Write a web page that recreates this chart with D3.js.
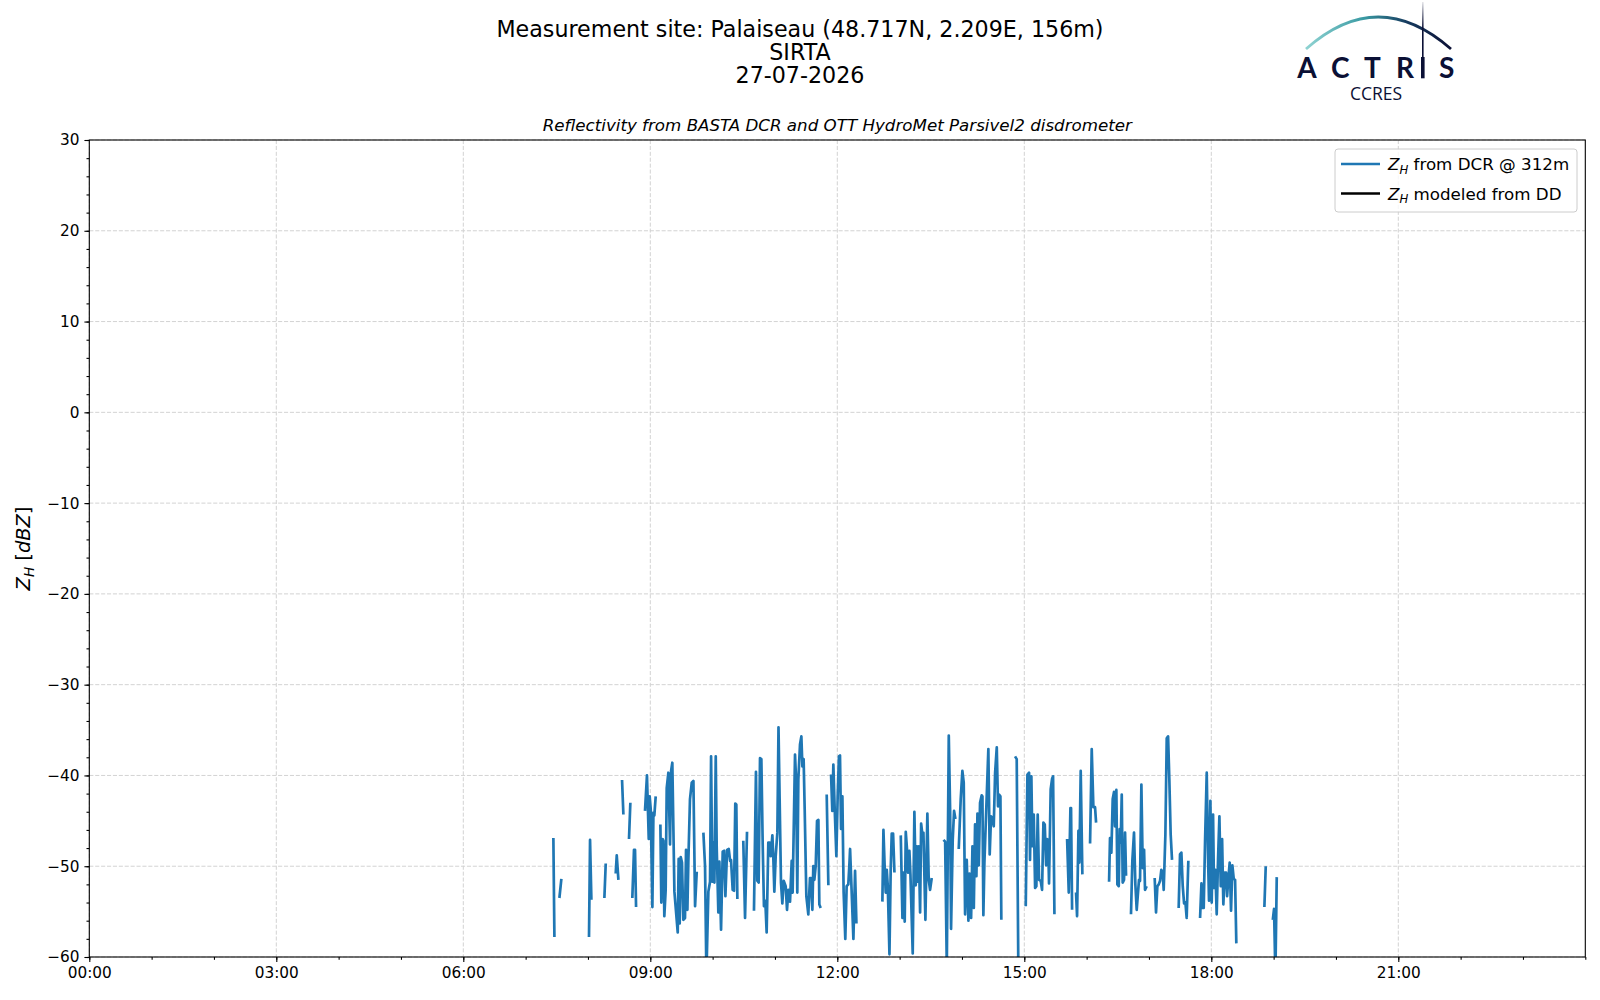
<!DOCTYPE html>
<html>
<head>
<meta charset="utf-8">
<script src="https://cdn.jsdelivr.net/npm/d3@7/dist/d3.min.js"></script>
<style>
  body { margin: 0; background: #fff; }
  svg text { font-family: "DejaVu Sans", sans-serif; fill: #000; }
</style>
</head>
<body>
<div id="chart"></div>
<script>
// Header texts
const titleLines = ["Measurement site: Palaiseau (48.717N, 2.209E, 156m)", "SIRTA", "27-07-2026"];
const subTitle = "Reflectivity from BASTA DCR and OTT HydroMet Parsivel2 disdrometer";

// Axis ticks
const xMajorTicks = [0, 180, 360, 540, 720, 900, 1080, 1260];   // minutes after 00:00
const xMinorTicks = d3.range(0, 1441, 60);
const yMajorTicks = [-60, -50, -40, -30, -20, -10, 0, 10, 20, 30];
const yMinorTicks = d3.range(-60, 31, 2);

// Z_H from DCR @ 312m : time in minutes after 00:00, dBZ (null = no echo)
const dcrTime = [
  446.7, 447.7, 448,
  452.5, 454.4, 455,
  481.0, 482.0, 483.3, 484,
  495.8, 497.1, 498,
  506.7, 507.7, 509.3, 510,
  512.8, 514.1, 515,
  519.5, 520.8, 521.5,
  522.7, 524.3, 525.3, 526.3, 527,
  534.9, 536.8, 538.5, 539.4, 540.4, 542.0, 543.0, 543.9, 545.2, 546,
  549.7, 550.6, 551.9, 552.6, 553.5, 554.8, 555.8, 557.4, 559.0, 560.0, 561.2, 563.2, 566.4, 567.3, 568.3,
  569.3, 570.5, 571.8, 573.4, 574.4, 575.7, 576.6, 578.2, 579.9, 581.5, 583.1, 584.7, 586,
  591.1, 592.7, 594.0, 595.9, 597.5, 598.5, 599.7, 600.7, 601.7, 603.0, 603.9, 605.5, 606.5, 608.1, 609.7,
  611.0, 612.3, 613.9, 615.5, 616.8, 617.7, 619.3, 620.6, 621.8, 622.8, 623.8, 625,
  629.5, 631.2, 633.1, 634,
  639.8, 641.7, 643.0, 644.3, 645.6, 646.9, 648.2, 649.4, 650.7, 652.0, 653.6, 654.9, 655.9, 657.5, 658.4,
  659.4, 660.7, 662.3, 663.4, 664.5, 665.8, 667.1, 668.4, 670.3, 671.6, 672.9, 674.5, 676.1, 677.0, 679.3,
  680.3, 681.5, 682.5, 684.1, 685.4, 686.4, 687.6, 688.6, 690.2, 692.1, 693.7, 694.7, 696.0, 696.9, 697.9,
  699.2, 700.5, 701.8, 702.7, 704.0, 705,
  709.8, 711.4, 712,
  714.0, 715.2, 716.2, 717.5, 719.1, 720.4, 721.6, 722.6, 723.6, 724.9, 726.1, 727.7, 729.0, 730.6, 731.6,
  732.3, 735.5, 737.1, 738.4, 739,
  763.4, 764.4, 765.7, 766.6, 767.6, 768.6, 770.2, 771.4, 772.4, 773.7, 775.0, 776,
  781.1, 782.7, 783.6, 784.9, 785.9, 787.2, 788.1, 789.4, 790.4, 792.6, 794.2, 795.5, 796.5, 797.4, 798.4,
  799.7, 800.7, 801.9, 802.9, 804.8, 806.7, 808.0, 809.3, 810.9, 812,
  822.2, 823.8, 825.4, 827.3, 828.6, 829.5, 831.1, 832.4, 833.7, 835,
  836.9, 838.8, 840.4, 841.7, 843.0, 844.6, 846.2, 847.2, 848.8, 850.1, 851.4, 852.6, 853.9, 854.9, 856.2,
  857.4, 859.0, 859.7, 860.6, 861.6, 865.4, 866.7, 868.0, 869.3, 870.6, 871.9, 873.5, 874.7, 875.7, 877.0,
  877.9, 879,
  891.1, 892.7, 894.3, 895,
  901.4, 903.0, 904.6, 905.5, 906.8, 907.8, 909.1, 910.4, 911.6, 912.9, 914.2, 915.8, 917.1, 918.4, 919.7,
  921.0, 921.9, 922.9, 923.8, 925.4, 926.7, 927.7, 929.0, 930,
  941.2, 942.8, 944.4, 945.0, 946.0, 947,
  949.8, 950.8, 952.1, 953.0, 954.3, 955.9, 957,
  963.3, 964.9, 966.5, 968.1, 969.1, 970,
  981.6, 982.5, 983.8, 985.1, 986.4, 987.3, 988.6, 989.6, 990.9, 991.8, 992.8, 993.8, 994.7, 996.0, 997.0,
  997.9, 999.2, 1000,
  1002.7, 1004.0, 1005.6, 1006.9, 1008.2, 1009.2, 1010.4, 1011.4, 1012.7, 1014.0, 1015.3, 1016.2, 1017.8, 1019,
  1025.5, 1026.8, 1028.1, 1029.4, 1030.7, 1031.9, 1033.2, 1034.2, 1035.8, 1037.1, 1038.4, 1039.6, 1040.9,
  1042.2, 1043,
  1048.6, 1049.9, 1051.2, 1052.5, 1053.8, 1055.1, 1056.3, 1057.9, 1059,
  1069.2, 1070.5, 1071.7, 1072.7, 1074.0, 1075.6, 1076.9, 1077.8, 1079.1, 1080.4, 1081.7, 1082.6, 1083.9,
  1085.2, 1086.5, 1087.8, 1089.1, 1090.4, 1091.6, 1092.9, 1094.2, 1095.2, 1096.4, 1097.7, 1099.0, 1100.3,
  1101.6, 1102.9, 1104.1, 1105,
  1131.1, 1132.4, 1133,
  1139.2, 1140.4, 1141.7, 1143.0
];
const dcrZh = [
  -46.9, -57.8, null,
  -53.5, -51.4, null,
  -57.8, -47.1, -53.7, null,
  -53.5, -49.7, null,
  -50.8, -48.8, -51.5, null,
  -40.5, -44.3, null,
  -47.0, -43.0, null,
  -53.5, -48.2, -48.2, -54.5, null,
  -43.9, -40.0, -47.0, -42.3, -43.7, -54.5, -44.1, -44.4, -42.3, null,
  -45.4, -54.0, -47.0, -47.2, -55.5, -52.6, -41.4, -39.7, -47.6, -39.5, -38.6, -52.8, -57.3, -49.2, -56.3,
  -49.0, -49.6, -55.9, -55.7, -48.2, -54.8, -49.6, -42.6, -40.8, -40.6, -54.4, -50.6, null,
  -46.3, -50.0, -62.0, -52.8, -51.7, -37.9, -51.7, -47.4, -51.8, -37.9, -47.8, -55.1, -49.5, -57.0, -48.4,
  -48.3, -53.3, -48.2, -48.1, -49.4, -49.3, -52.6, -52.7, -43.1, -43.2, -53.6, null,
  -47.2, -55.7, -46.2, null,
  -54.9, -39.6, -51.6, -51.8, -38.1, -38.2, -47.6, -54.4, -53.8, -57.3, -47.4, -47.4, -48.9, -46.6, -49.0,
  -52.8, -48.9, -46.3, -34.7, -42.6, -51.8, -54.1, -51.6, -52.2, -54.8, -52.6, -53.9, -49.4, -52.9, -37.7,
  -40.4, -52.9, -40.4, -36.6, -35.7, -39.0, -38.2, -43.7, -53.3, -55.3, -51.3, -51.3, -54.8, -50.0, -51.5,
  -50.0, -45.0, -44.9, -54.2, -54.6, null,
  -42.1, -52.1, null,
  -39.9, -43.9, -38.8, -43.7, -48.9, -42.1, -37.9, -37.8, -45.9, -42.3, -52.9, -58.0, -52.2, -52.0, -49.9,
  -48.1, -58.0, -50.5, -56.3, null,
  -53.9, -46.0, -50.4, -52.9, -50.4, -52.2, -59.7, -50.4, -46.4, -46.4, -50.7, null,
  -46.6, -55.7, -50.7, -56.1, -46.2, -48.3, -50.7, -48.3, -50.9, -59.6, -44.0, -52.1, -47.8, -51.7, -47.8,
  -55.1, -45.3, -46.5, -46.3, -55.9, -44.2, -51.5, -52.6, -51.3, null,
  -47.1, -47.3, -61.0, -35.6, -43.8, -56.9, -47.1, -43.9, -44.8, null,
  -48.1, -42.6, -39.5, -40.8, -55.3, -49.3, -56.0, -50.8, -55.7, -47.8, -54.6, -45.4, -51.1, -44.2, -49.9,
  -43.0, -42.2, -42.3, -55.4, -49.6, -37.1, -48.7, -44.5, -44.7, -45.6, -39.7, -36.9, -43.4, -42.1, -42.3,
  -55.9, null,
  -37.9, -38.2, -62.0, null,
  -54.4, -39.9, -39.7, -49.3, -40.1, -47.8, -44.3, -52.4, -52.2, -44.3, -51.5, -51.6, -52.6, -45.2, -45.4,
  -49.9, -47.0, -47.2, -51.9, -41.5, -40.4, -40.1, -55.3, null,
  -47.0, -52.9, -43.6, -43.6, -54.8, null,
  -52.9, -55.5, -46.1, -49.6, -39.5, -50.9, null,
  -47.5, -37.1, -43.5, -43.5, -45.2, null,
  -51.7, -46.9, -48.5, -42.6, -41.8, -45.6, -41.6, -52.0, -52.2, -45.9, -47.4, -42.1, -51.8, -51.5, -46.3,
  -50.9, -50.9, null,
  -55.3, -49.4, -46.3, -52.0, -54.8, -53.3, -51.5, -51.6, -41.0, -50.2, -48.2, -52.6, -52.2, null,
  -51.3, -55.1, -52.2, -52.0, -51.6, -50.4, -50.7, -52.6, -46.5, -35.9, -35.7, -40.4, -46.5,
  -49.3, null,
  -54.6, -48.7, -48.5, -52.2, -54.1, -54.0, -55.7, -49.4, null,
  -55.7, -51.9, -54.6, -54.6, -47.2, -39.7, -49.2, -53.8, -42.8, -54.0, -44.3, -52.4, -50.4,
  -55.3, -49.2, -44.5, -52.2, -47.0, -54.2, -50.7, -50.7, -53.3, -51.4, -49.6, -54.9, -49.9,
  -51.4, -51.5, -58.5, null,
  -54.5, -50.0, null,
  -55.9, -54.7, -62.0, -51.2
];

// Z_H modeled from DD : no data this day
const ddTime = [];
const ddZh = [];

const legendLabels = ["from DCR @ 312m", "modeled from DD"];
const seriesColors = ["#1f77b4", "#000000"];

// Layout
const W = 1600, H = 1000;
const plot = { left: 89.3, right: 1585.3, top: 140, bottom: 957 };
const lineWidth = 2.7;

const svg = d3.select("#chart").append("svg")
  .attr("width", W).attr("height", H);

const x = d3.scaleLinear().domain([0, 1440]).range([plot.left, plot.right]);
const y = d3.scaleLinear().domain([-60, 30]).range([plot.bottom, plot.top]);

// Titles
svg.append("text")
  .attr("x", 800).attr("text-anchor", "middle")
  .style("font-size", "22.2px")
  .selectAll("tspan").data(titleLines).join("tspan")
  .attr("x", 800)
  .attr("y", (d, i) => 36.7 + i * 23)
  .text(d => d);

svg.append("text")
  .attr("x", (plot.left + plot.right) / 2).attr("y", 131)
  .attr("text-anchor", "middle")
  .style("font-size", "16.7px").style("font-style", "italic")
  .text(subTitle);

// Grid
const grid = svg.append("g")
  .attr("stroke", "#d3d3d3").attr("stroke-width", 1).attr("stroke-dasharray", "4.1,1.8");
grid.selectAll(".gx").data(xMajorTicks).join("line")
  .attr("x1", d => x(d)).attr("x2", d => x(d))
  .attr("y1", plot.top).attr("y2", plot.bottom);
grid.selectAll(".gy").data(yMajorTicks).join("line")
  .attr("x1", plot.left).attr("x2", plot.right)
  .attr("y1", d => y(d)).attr("y2", d => y(d));

// Clip
svg.append("clipPath").attr("id", "clip")
  .append("rect")
  .attr("x", plot.left).attr("y", plot.top)
  .attr("width", plot.right - plot.left).attr("height", plot.bottom - plot.top);

const line = d3.line()
  .defined(d => d.zh !== null)
  .x(d => x(d.t))
  .y(d => y(d.zh));

const dcrData = dcrTime.map((t, i) => ({ t: t, zh: dcrZh[i] }));
const ddData = ddTime.map((t, i) => ({ t: t, zh: ddZh[i] }));

svg.append("path")
  .datum(dcrData)
  .attr("clip-path", "url(#clip)")
  .attr("fill", "none")
  .attr("stroke", seriesColors[0])
  .attr("stroke-width", lineWidth)
  .attr("stroke-linejoin", "round")
  .attr("d", line);

svg.append("path")
  .datum(ddData)
  .attr("clip-path", "url(#clip)")
  .attr("fill", "none")
  .attr("stroke", seriesColors[1])
  .attr("stroke-width", lineWidth)
  .attr("d", line);

// Axes
const fmtTime = m => String(Math.floor(m / 60)).padStart(2, "0") + ":" + String(m % 60).padStart(2, "0");

function styleAxis(g) {
  g.select(".domain").remove();
  g.selectAll("line").attr("stroke", "#000").attr("stroke-width", 1.1);
  g.selectAll("text").style("font-size", "15.3px").style("font-family", "DejaVu Sans");
}

svg.append("g")
  .attr("transform", `translate(0,${plot.bottom})`)
  .call(d3.axisBottom(x).tickValues(xMinorTicks).tickSize(2.8).tickFormat(""))
  .call(styleAxis);
svg.append("g")
  .attr("transform", `translate(0,${plot.bottom})`)
  .call(d3.axisBottom(x).tickValues(xMajorTicks).tickSize(4.9).tickPadding(4.9).tickFormat(fmtTime))
  .call(styleAxis);

svg.append("g")
  .attr("transform", `translate(${plot.left},0)`)
  .call(d3.axisLeft(y).tickValues(yMinorTicks).tickSize(2.8).tickFormat(""))
  .call(styleAxis);
svg.append("g")
  .attr("transform", `translate(${plot.left},0)`)
  .call(d3.axisLeft(y).tickValues(yMajorTicks).tickSize(4.9).tickPadding(4.9).tickFormat(d3.format("d")))
  .call(styleAxis);

// Frame
svg.append("rect")
  .attr("x", plot.left).attr("y", plot.top)
  .attr("width", plot.right - plot.left).attr("height", plot.bottom - plot.top)
  .attr("fill", "none").attr("stroke", "#000").attr("stroke-width", 1.1);

// Y label: Z_H [dBZ]
const ylab = svg.append("text")
  .attr("transform", `translate(30,${(plot.top + plot.bottom) / 2}) rotate(-90)`)
  .attr("text-anchor", "middle")
  .style("font-size", "19.4px");
ylab.append("tspan").style("font-style", "italic").text("Z");
ylab.append("tspan").style("font-style", "italic").style("font-size", "13.6px").attr("dy", 4).text("H");
ylab.append("tspan").attr("dy", -4).text(" [");
ylab.append("tspan").style("font-style", "italic").text("dBZ");
ylab.append("tspan").text("]");

// Legend
const lg = svg.append("g");
lg.append("rect")
  .attr("x", 1335).attr("y", 149).attr("width", 242).attr("height", 63)
  .attr("rx", 3).attr("fill", "#fff").attr("fill-opacity", 0.8)
  .attr("stroke", "#cccccc").attr("stroke-width", 1);
legendLabels.forEach((lab, i) => {
  const yy = 164 + i * 29.5;
  lg.append("line")
    .attr("x1", 1341).attr("x2", 1380).attr("y1", yy).attr("y2", yy)
    .attr("stroke", seriesColors[i]).attr("stroke-width", lineWidth);
  const t = lg.append("text").attr("x", 1388).attr("y", yy + 6).style("font-size", "16.7px");
  t.append("tspan").style("font-style", "italic").text("Z");
  t.append("tspan").style("font-style", "italic").style("font-size", "11.7px").attr("dy", 3.5).text("H");
  t.append("tspan").attr("dy", -3.5).text(" " + lab);
});

// ACTRIS CCRES logo
const defs = svg.append("defs");
const grad = defs.append("linearGradient").attr("id", "arcGrad")
  .attr("gradientUnits", "userSpaceOnUse")
  .attr("x1", 1306).attr("x2", 1451).attr("y1", 0).attr("y2", 0);
grad.append("stop").attr("offset", 0).attr("stop-color", "#8fd3d2");
grad.append("stop").attr("offset", 0.4).attr("stop-color", "#3a9aa3");
grad.append("stop").attr("offset", 0.7).attr("stop-color", "#163a5e");
grad.append("stop").attr("offset", 1).attr("stop-color", "#0b1035");
const vgrad = defs.append("linearGradient").attr("id", "vGrad")
  .attr("x1", 0).attr("x2", 0).attr("y1", 0).attr("y2", 1);
vgrad.append("stop").attr("offset", 0).attr("stop-color", "#0b1035").attr("stop-opacity", 0.1);
vgrad.append("stop").attr("offset", 0.5).attr("stop-color", "#0b1035").attr("stop-opacity", 1);

const logo = svg.append("g");
logo.append("path")
  .attr("d", "M1306,49 Q1378,-15 1451,49")
  .attr("fill", "none").attr("stroke", "url(#arcGrad)").attr("stroke-width", 2.8);
logo.append("rect")
  .attr("x", 1422).attr("y", 2).attr("width", 1.6).attr("height", 55)
  .attr("fill", "url(#vGrad)");
logo.append("rect")
  .attr("x", 1421).attr("y", 57).attr("width", 3.6).attr("height", 21.3)
  .attr("fill", "#0b1035");
const letters = [["A", 1307], ["C", 1340.3], ["T", 1372.5], ["R", 1405], ["S", 1446.7]];
logo.selectAll(".lt").data(letters).join("text")
  .attr("x", d => d[1]).attr("y", 78.3)
  .attr("text-anchor", "middle")
  .style("font-family", "Lato, sans-serif").style("font-size", "28px").style("font-weight", "bold")
  .style("fill", "#0b1035")
  .text(d => d[0]);
logo.append("text")
  .attr("x", 1376).attr("y", 100)
  .attr("text-anchor", "middle")
  .style("font-family", "'Open Sans', sans-serif").style("font-size", "17.5px")
  .style("fill", "#0b1035")
  .text("CCRES");
</script>
</body>
</html>
